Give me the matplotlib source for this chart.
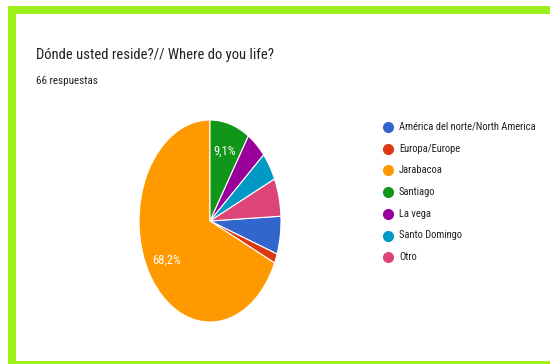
import math
import matplotlib
matplotlib.use("Agg")
import matplotlib.pyplot as plt
from matplotlib.patches import Rectangle
from matplotlib.lines import Line2D
from matplotlib import font_manager

# Survey answers: "Where do you live?" (66 responses)
categories = ["América del norte/North America", "Europa/Europe", "Jarabacoa",
              "Santiago", "La vega", "Santo Domingo", "Otro"]
counts = [4, 1, 45, 6, 3, 3, 4]
colors = ["#3366cc", "#dc3912", "#ff9900", "#109618", "#990099", "#0099c6", "#dd4477"]
title = "Dónde usted reside?// Where do you life?"
subtitle = "66 respuestas"

available = {f.name for f in font_manager.fontManager.ttflist}
family = next((n for n in ["Roboto Condensed", "Liberation Sans Narrow", "Roboto"]
               if n in available), "DejaVu Sans")
plt.rcParams["font.family"] = [family, "DejaVu Sans"]

W, H = 550, 364
fig = plt.figure(figsize=(W / 100, H / 100), dpi=100)
fig.patch.set_facecolor("white")

# green frame around the card (8 px wide, right side runs off the canvas)
lw_pt = 8 * 72 / 100
fig.patches.append(Rectangle((12 / W, 1 - 365 / H), 700 / W, (365 - 10) / H,
                             transform=fig.transFigure, fill=False,
                             edgecolor="#9ef01a", linewidth=lw_pt, zorder=0))

fig.text(36 / W, 1 - 55 / H, title, fontsize=10.5, color="#202124", va="center")
fig.text(36 / W, 1 - 81 / H, subtitle, fontsize=7.9, color="#202124", va="center")

# pie, starting at 12 o'clock with Santiago and running clockwise
total = sum(counts)
before = sum(counts[3:])
start = 90 - 360 * before / total
cx, cy, rx, ry = 210, 221, 71, 101
ax = fig.add_axes([(cx - rx) / W, (H - cy - ry) / H, 2 * rx / W, 2 * ry / H])
wedges, _ = ax.pie(counts, colors=colors, startangle=start, counterclock=False,
                   wedgeprops=dict(edgecolor="white", linewidth=0.8))
acc = 0
for c in counts:
    frac = c / total
    pct = 100 * frac
    if pct >= 8:
        mid = start - 360 * (acc + frac / 2)
        r = 0.72
        ax.text(r * math.cos(math.radians(mid)), r * math.sin(math.radians(mid)),
                f"{pct:.1f}%".replace(".", ","), color="white", fontsize=9,
                ha="center", va="center")
    acc += frac
ax.set_aspect("auto")
ax.set_xlim(-1, 1)
ax.set_ylim(-1, 1)
ax.axis("off")

# legend
y0, dy = 127, 21.7
for i, (lab, col) in enumerate(zip(categories, colors)):
    y = 1 - (y0 + i * dy) / H
    fig.add_artist(Line2D([388 / W], [y], marker="o", markersize=7, color=col,
                          transform=fig.transFigure, linestyle="none"))
    fig.text(399 / W, y, lab, fontsize=7.6, color="#222222", va="center")

fig.savefig("out.png", dpi=100)
